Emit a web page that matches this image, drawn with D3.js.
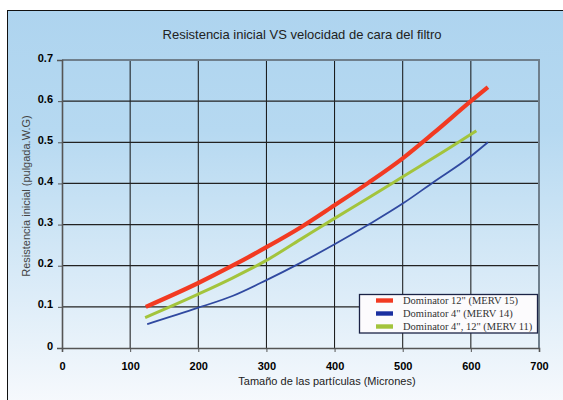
<!DOCTYPE html>
<html><head><meta charset="utf-8">
<script src="https://cdn.jsdelivr.net/npm/d3@7"></script>
<style>html,body{margin:0;padding:0;background:#fff;}svg{display:block;}</style>
</head><body>
<svg id="c" width="563" height="400"></svg>
<script>
const title = "Resistencia inicial VS velocidad de cara del filtro";
const xLabel = "Tamaño de las partículas (Micrones)";
const yLabel = "Resistencia inicial (pulgada.W.G)";
const xTicks = [0,100,200,300,400,500,600,700];
const yTicks = [0,0.1,0.2,0.3,0.4,0.5,0.6,0.7];
const seriesNames = ['Dominator 12" (MERV 15)', 'Dominator 4" (MERV 14)', 'Dominator 4", 12" (MERV 11)'];
const merv15X = [123,200,250,300,350,400,450,500,545,600,625];
const merv15Y = [0.100,0.158,0.200,0.245,0.293,0.347,0.402,0.461,0.522,0.600,0.634];
const merv14X = [125,200,251,300,350,400,450,500,545,600,625];
const merv14Y = [0.058,0.098,0.127,0.165,0.207,0.252,0.300,0.351,0.403,0.466,0.500];
const merv11X = [122,200,250,300,350,400,450,500,580,608];
const merv11Y = [0.074,0.131,0.170,0.213,0.264,0.315,0.365,0.416,0.498,0.528];

const svg = d3.select("#c");
const defs = svg.append("defs");
const g = defs.append("linearGradient").attr("id","bg").attr("x1",0).attr("y1",0).attr("x2",0).attr("y2",1);
g.append("stop").attr("offset","0%").attr("stop-color","#aed4ef");
g.append("stop").attr("offset","30%").attr("stop-color","#b6d9f1");
g.append("stop").attr("offset","100%").attr("stop-color","#f8fafd");

svg.append("rect").attr("x",7.5).attr("y",10.5).attr("width",570).attr("height",400)
  .attr("fill","url(#bg)").attr("stroke","#111").attr("stroke-width",1);

const L=62,R=539,T=60,B=348;
const x = d3.scaleLinear().domain([0,700]).range([L,R]);
const y = d3.scaleLinear().domain([0,0.7]).range([B,T]);

const grid = svg.append("g");
grid.selectAll("line.v").data(xTicks.slice(1,-1)).join("line")
  .attr("x1",d=>x(d)).attr("x2",d=>x(d)).attr("y1",T).attr("y2",B)
  .attr("stroke","#111").attr("stroke-width",1);
grid.selectAll("line.h").data(yTicks.slice(1,-1)).join("line")
  .attr("y1",d=>y(d)).attr("y2",d=>y(d)).attr("x1",L).attr("x2",R)
  .attr("stroke","#222").attr("stroke-width",1.2);
svg.append("path").attr("d",`M${L},${T}H${R}V${B}`).attr("fill","none")
  .attr("stroke","#6f7f8c").attr("stroke-width",2);

const xAxis = d3.axisBottom(x).tickValues(xTicks).tickSize(4).tickFormat(d3.format("d"));
const yAxis = d3.axisLeft(y).tickValues(yTicks).tickSize(5).tickFormat(d=>d===0?"0":d3.format(".1f")(d));
const gx = svg.append("g").attr("transform",`translate(0,${B})`).call(xAxis);
const gy = svg.append("g").attr("transform",`translate(${L},0)`).call(yAxis);
[gx,gy].forEach(a=>{
  a.select(".domain").attr("stroke","#555").attr("stroke-width",1.6);
  a.selectAll(".tick line").attr("stroke","#555");
  a.selectAll("text").attr("font-family","Liberation Sans, Arial, sans-serif")
    .attr("font-size",11).attr("font-weight","bold").attr("fill","#000");
});
gx.selectAll("text").attr("dy","1.35em");
gy.selectAll("text").attr("dx","-1px").attr("dy","0.1em");
gy.selectAll(".tick line").attr("x2",-4);

const line = d3.line().x(d=>x(d[0])).y(d=>y(d[1])).curve(d3.curveMonotoneX);
const series = [
  {xs:merv15X, ys:merv15Y, color:"#f23a22", w:4.2},
  {xs:merv14X, ys:merv14Y, color:"#3049a0", w:1.8},
  {xs:merv11X, ys:merv11Y, color:"#a3c43c", w:3}
];
[1,2,0].forEach(i=>{
  const s=series[i];
  svg.append("path").datum(s.xs.map((v,k)=>[v,s.ys[k]])).attr("d",line)
    .attr("fill","none").attr("stroke",s.color).attr("stroke-width",s.w).attr("stroke-linecap","butt");
});

const lg = svg.append("g");
lg.append("rect").attr("x",359.5).attr("y",294.5).attr("width",178).attr("height",38.5)
  .attr("fill","#fcfbfd").attr("stroke","#1b2346").attr("stroke-width",1.3);
const legColors=["#f23a22","#1a2fa0","#a3c43c"];
seriesNames.forEach((n,i)=>{
  const yy=300.5+i*13;
  lg.append("rect").attr("x",376).attr("y",yy-2.2).attr("width",17).attr("height",4.4).attr("fill",legColors[i]);
  lg.append("text").attr("x",403).attr("y",yy+3.8).text(n)
    .attr("font-family","Liberation Serif, Times New Roman, serif").attr("font-size",10.5).attr("fill","#333");
});

svg.append("text").attr("x",302).attr("y",39).attr("text-anchor","middle").text(title)
  .attr("font-family","Liberation Sans, Arial, sans-serif").attr("font-size",13).attr("fill","#222");
svg.append("text").attr("x",327).attr("y",385).attr("text-anchor","middle").text(xLabel)
  .attr("font-family","Liberation Sans, Arial, sans-serif").attr("font-size",11).attr("fill","#222");
svg.append("text").attr("transform","translate(30,196) rotate(-90)").attr("text-anchor","middle").text(yLabel)
  .attr("font-family","Liberation Sans, Arial, sans-serif").attr("font-size",11).attr("fill","#444");
</script>
</body></html>
